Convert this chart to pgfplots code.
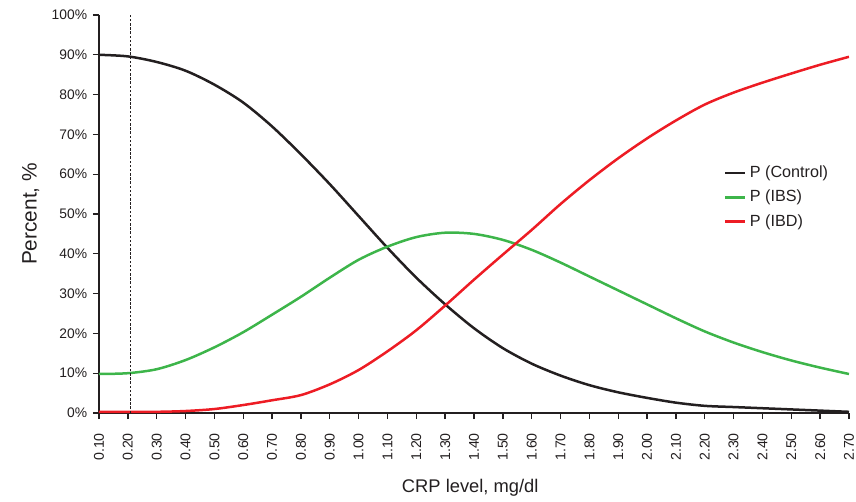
\documentclass[border=0pt]{standalone}
\usepackage{fontspec}
\setmainfont{Liberation Sans}
\usepackage{pgfplots}
\pgfplotsset{compat=1.18}
\definecolor{ink}{HTML}{231F20}
\definecolor{cgreen}{HTML}{3DB54A}
\definecolor{cred}{HTML}{ED1C24}

\begin{document}
\begin{tikzpicture}
\begin{axis}[
  scale only axis,
  width=450pt, height=238.8pt,
  xmin=0.1, xmax=2.7, ymin=0, ymax=100,
  axis x line*=bottom, axis y line*=left,
  axis line style={ink, line width=0.8pt, -},
  tick align=outside, major tick length=3.6pt,
  tick style={ink, line width=0.8pt},
  xtick={0.1,0.2,0.3,0.4,0.5,0.6,0.7,0.8,0.9,1.0,1.1,1.2,1.3,1.4,1.5,1.6,1.7,1.8,1.9,2.0,2.1,2.2,2.3,2.4,2.5,2.6,2.7},
  xticklabels={0.10,0.20,0.30,0.40,0.50,0.60,0.70,0.80,0.90,1.00,1.10,1.20,1.30,1.40,1.50,1.60,1.70,1.80,1.90,2.00,2.10,2.20,2.30,2.40,2.50,2.60,2.70},
  xticklabel style={yshift=-5pt, rotate=90, anchor=east, font=\fontsize{8.5}{10}\selectfont, text=ink},
  ytick={0,10,...,100},
  yticklabel={\pgfmathprintnumber{\tick}\%},
  yticklabel style={font=\fontsize{8.3}{10}\selectfont, text=ink},
  /pgf/number format/assume math mode=true,
  xlabel={CRP level, mg/dl},
  ylabel={Percent, \%},
  xlabel style={at={(rel axis cs:0.495,0)}, anchor=center, yshift=-45pt,
    font=\fontsize{11}{13}\selectfont, text=ink},
  ylabel style={at={(rel axis cs:0,0.5)}, anchor=center, yshift=41pt,
    font=\fontsize{12.5}{14}\selectfont, text=ink},
  legend style={draw=none, fill=none, inner sep=0pt, at={(0.833,0.63)}, anchor=north west,
    font=\fontsize{9.7}{11}\selectfont, text=ink, row sep=2pt},
  legend cell align=left,
  legend image code/.code={\draw[#1] (0pt,0pt) -- (12pt,0pt);},
  every axis plot/.append style={line width=1.5pt},
]
\addplot[ink, smooth] coordinates {
(0.1,90)(0.2,89.6)(0.3,88.2)(0.4,86)(0.5,82.5)(0.6,78)(0.7,72)(0.8,65)(0.9,57.5)
(1.0,49.5)(1.1,41.5)(1.2,34)(1.3,27.3)(1.4,21.3)(1.5,16.3)(1.6,12.4)(1.7,9.4)
(1.8,7)(1.9,5.2)(2.0,3.8)(2.1,2.6)(2.2,1.8)(2.3,1.5)(2.4,1.2)(2.5,0.9)(2.6,0.6)(2.7,0.3)};
\addlegendentry{P (Control)}
\addplot[cgreen, smooth] coordinates {
(0.1,9.8)(0.2,10)(0.3,11)(0.4,13.3)(0.5,16.5)(0.6,20.3)(0.7,24.7)(0.8,29.2)(0.9,34)
(1.0,38.5)(1.1,41.8)(1.2,44.2)(1.3,45.3)(1.4,45)(1.5,43.5)(1.6,41)(1.7,37.8)
(1.8,34.3)(1.9,30.8)(2.0,27.3)(2.1,23.8)(2.2,20.5)(2.3,17.7)(2.4,15.3)(2.5,13.2)(2.6,11.4)(2.7,9.8)};
\addlegendentry{P (IBS)}
\addplot[cred, smooth] coordinates {
(0.1,0.3)(0.2,0.3)(0.3,0.3)(0.4,0.5)(0.5,1)(0.6,2)(0.7,3.2)(0.8,4.5)(0.9,7.2)
(1.0,10.8)(1.1,15.5)(1.2,20.8)(1.3,27)(1.4,33.5)(1.5,39.8)(1.6,46)(1.7,52.5)
(1.8,58.5)(1.9,64)(2.0,69)(2.1,73.5)(2.2,77.5)(2.3,80.5)(2.4,83)(2.5,85.3)(2.6,87.5)(2.7,89.5)};
\addlegendentry{P (IBD)}
\addplot[ink, densely dotted, line width=0.6pt, forget plot] coordinates {(0.21,0)(0.21,100)};
\end{axis}
\pgfresetboundingbox
\path[use as bounding box] (current axis.south west) ++(-59.4pt,-52.8pt)
  rectangle ([shift={(4.2pt,9pt)}]current axis.north east);
\end{tikzpicture}
\end{document}
